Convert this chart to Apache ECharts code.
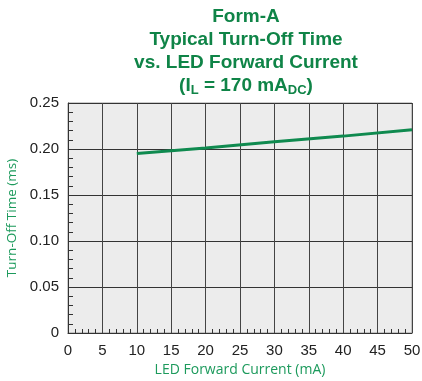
<!DOCTYPE html>
<html><head><meta charset="utf-8">
<script src="https://cdn.jsdelivr.net/npm/echarts@6/dist/echarts.min.js"></script>
<style>html,body{margin:0;padding:0;background:#fff}#c{width:422px;height:381px}</style>
</head><body><div id="c"></div>
<script>
var ledCurrent = [10, 20, 30, 40, 50];
var turnOffTime = [0.195, 0.201, 0.208, 0.214, 0.221];
var xTicks = [0, 5, 10, 15, 20, 25, 30, 35, 40, 45, 50];
var yTicks = [0, 0.05, 0.10, 0.15, 0.20, 0.25];

var green = '#0f8447';
var tf = 'Liberation Sans, Arial, sans-serif';
var nf = 'Open Sans, Noto Sans, sans-serif';
var chart = echarts.init(document.getElementById('c'));
chart.setOption({
  animation: false,
  backgroundColor: '#fff',
  title: {
    text: '{t|Form-A}\n{t|Typical Turn-Off Time}\n{t|vs. LED Forward Current}\n{t|(I}{s|L}{t| = 170 mA}{s|DC}{t|)}',
    left: 241, top: 0, textAlign: 'center',
    textStyle: {
      fontFamily: tf, fontWeight: 'bold', fontSize: 19, color: green, lineHeight: 23,
      rich: {
        t: {fontFamily: tf, fontWeight: 'bold', fontSize: 19, color: green, lineHeight: 23},
        s: {fontFamily: tf, fontWeight: 'bold', fontSize: 13, color: green, lineHeight: 23, padding: [9, 0, 0, 0]}
      }
    }
  },
  grid: {left: 68, right: 10, top: 103, bottom: 48, containLabel: false, outerBoundsMode: 'none',
    show: true, backgroundColor: '#ececec', borderColor: '#999', borderWidth: 1},
  xAxis: {
    type: 'value', min: 0, max: 50, interval: 5,
    name: 'LED Forward Current (mA)', nameLocation: 'middle', nameGap: 30,
    nameTextStyle: {color: '#1c9a5c', fontSize: 14, fontFamily: nf},
    axisLine: {show: true, onZero: false, lineStyle: {color: '#333', width: 1}},
    axisTick: {show: false, inside: true},
    minorTick: {show: true, splitNumber: 5, length: 4, lineStyle: {color: '#333', width: 1}},
    axisLabel: {color: '#222', fontSize: 15, margin: 10, fontFamily: tf,
      formatter: function (v) { return xTicks.indexOf(v) >= 0 ? String(v) : ''; }},
    splitLine: {show: true, lineStyle: {color: '#444', width: 1}}
  },
  yAxis: {
    type: 'value', min: 0, max: 0.25, interval: 0.05,
    name: 'Turn-Off Time (ms)', nameLocation: 'middle', nameGap: 43,
    nameTextStyle: {color: '#1c9a5c', fontSize: 13.5, fontFamily: nf},
    axisLine: {show: true, lineStyle: {color: '#333', width: 1}},
    axisTick: {show: false, inside: true},
    minorTick: {show: true, splitNumber: 5, length: 5, lineStyle: {color: '#333', width: 1}},
    axisLabel: {color: '#222', fontSize: 15, margin: 9, fontFamily: tf,
      formatter: function (v) {
        var i = yTicks.findIndex(function (t) { return Math.abs(t - v) < 1e-9; });
        if (i < 0) return '';
        return v === 0 ? '0' : yTicks[i].toFixed(2);
      }},
    splitLine: {show: true, lineStyle: {color: '#333', width: 1}}
  },
  series: [{
    type: 'line', showSymbol: false, smooth: false,
    data: ledCurrent.map(function (x, i) { return [x, turnOffTime[i]]; }),
    lineStyle: {color: '#0f8a4f', width: 3}
  }]
});
</script></body></html>
